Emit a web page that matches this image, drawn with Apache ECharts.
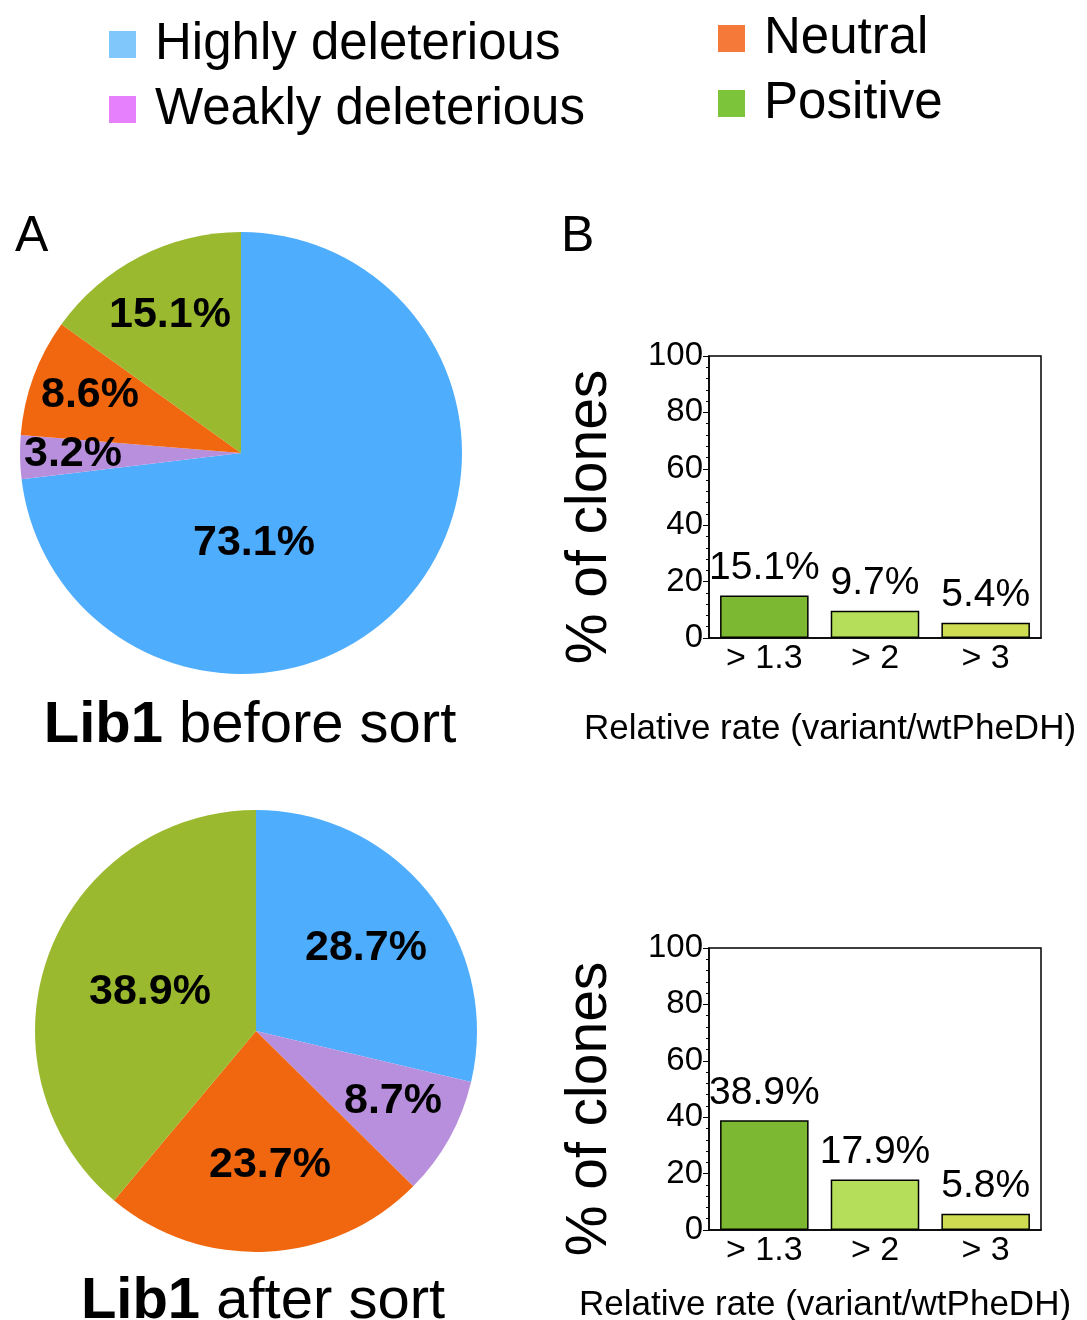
<!DOCTYPE html>
<html><head><meta charset="utf-8">
<script src="https://cdn.jsdelivr.net/npm/echarts@6/dist/echarts.min.js"></script>
<style>body{margin:0;background:#fff}#chart{width:1087px;height:1320px}</style>
</head><body><div id="chart"></div>
<script>
var classNames = ['Highly deleterious', 'Weakly deleterious', 'Neutral', 'Positive'];
var beforeSort = [73.1, 3.2, 8.6, 15.1];
var afterSort = [28.7, 8.7, 23.7, 38.9];
var rateCats = ['> 1.3', '> 2', '> 3'];
var ratesBefore = [15.1, 9.7, 5.4];
var ratesAfter = [38.9, 17.9, 5.8];

var pieColors = ['#4fadfd', '#b88fdc', '#f0670f', '#9ab92f'];
var legendColors = ['#80c8fc', '#e680fc', '#f57a3a', '#7cc43a'];
var barColors = ['#7cb832', '#b5df5a', '#cedc52'];
var FONT = 'Arial, "Liberation Sans", sans-serif';

// label anchor points inside each pie (layout only)
var labelPos = [
    [[254, 543], [73, 454], [90, 395], [170, 315]],
    [[366, 948], [393, 1101], [270, 1165], [150, 992]]
];

function pieData(vals){
    return vals.map(function(v,i){
        return {name: classNames[i], value: v, itemStyle: {color: pieColors[i]}};
    });
}
function pieSeries(vals, cx, cy, p){
    return {
        type: 'pie', center: [cx, cy], radius: 221, startAngle: 90, clockwise: true,
        data: pieData(vals), animation: false, avoidLabelOverlap: false,
        label: {position: 'inner', formatter: '{c}%', fontSize: 43, fontWeight: 'bold', color: '#000', fontFamily: FONT},
        labelLayout: function(params){
            var pt = labelPos[p][params.dataIndex];
            return {x: pt[0], y: pt[1], align: 'center', verticalAlign: 'middle', hideOverlap: false};
        },
        labelLine: {show: false}, emphasis: {disabled: true}
    };
}
function grid(top){ return {left: 709, width: 332, top: top, height: 282, show: true, borderColor: '#000', borderWidth: 1.5}; }
function xAx(i){
    return {gridIndex: i, type: 'category', data: rateCats,
        axisLine: {lineStyle: {color: '#000', width: 1.5}}, axisTick: {show: false},
        axisLabel: {fontSize: 34, color: '#000', fontFamily: FONT, margin: 4}};
}
function yAx(i){
    return {gridIndex: i, type: 'value', min: 0, max: 100, interval: 20,
        axisLine: {show: true, lineStyle: {color: '#000', width: 1.5}},
        axisTick: {show: true, inside: false, length: 6, lineStyle: {color: '#000'}},
        minorTick: {show: true, splitNumber: 5, length: 3, lineStyle: {color: '#000'}},
        splitLine: {show: false},
        axisLabel: {fontSize: 33, color: '#000', fontFamily: FONT, margin: 6},
        name: '% of clones', nameLocation: 'middle', nameGap: 90, nameRotate: 90,
        nameTextStyle: {fontSize: 57, color: '#000', fontFamily: FONT, padding: [0, 0, 0, -40]}};
}
function barSeries(vals, i){
    return {type: 'bar', xAxisIndex: i, yAxisIndex: i, barWidth: '80%', animation: false,
        data: vals.map(function(v,k){ return {value: v, itemStyle: {color: barColors[k], borderColor: '#000', borderWidth: 1.5}}; }),
        label: {show: true, position: 'top', formatter: '{c}%', fontSize: 39, color: '#000', fontFamily: FONT, distance: 8}};
}
function legendItems(idx){
    return idx.map(function(i){ return {name: classNames[i], itemStyle: {color: legendColors[i]}}; });
}
function txt(t, x, y, size, align){
    return {text: t, left: x, top: y, textAlign: align || 'left',
        textStyle: {fontSize: size, fontWeight: 'normal', color: '#000', fontFamily: FONT,
            rich: {b: {fontSize: size, fontWeight: 'bold', fontFamily: FONT}}}};
}

var chart = echarts.init(document.getElementById('chart'));
chart.setOption({
    backgroundColor: '#fff',
    legend: [
        {data: legendItems([0,1]), orient: 'vertical', left: 104, top: 14, itemWidth: 27, itemHeight: 27, itemGap: 14, icon: 'rect',
            textStyle: {fontSize: 51, color: '#000', fontFamily: FONT, padding: [0, 0, 0, 14]}, selectedMode: false},
        {data: legendItems([2,3]), orient: 'vertical', left: 713, top: 8, itemWidth: 27, itemHeight: 27, itemGap: 14, icon: 'rect',
            textStyle: {fontSize: 51, color: '#000', fontFamily: FONT, padding: [0, 0, 0, 14]}, selectedMode: false}
    ],
    title: [
        txt('A', 10, 207, 50),
        txt('B', 556, 207, 50),
        txt('{b|Lib1} before sort', 245, 692, 58, 'center'),
        txt('{b|Lib1} after sort', 258, 1268, 58, 'center'),
        txt('Relative rate (variant/wtPheDH)', 825, 707, 35, 'center'),
        txt('Relative rate (variant/wtPheDH)', 820, 1283, 35, 'center')
    ],
    grid: [grid(356), grid(948)],
    xAxis: [xAx(0), xAx(1)],
    yAxis: [yAx(0), yAx(1)],
    series: [pieSeries(beforeSort, 241, 453, 0), pieSeries(afterSort, 256, 1031, 1), barSeries(ratesBefore, 0), barSeries(ratesAfter, 1)]
});
</script></body></html>
